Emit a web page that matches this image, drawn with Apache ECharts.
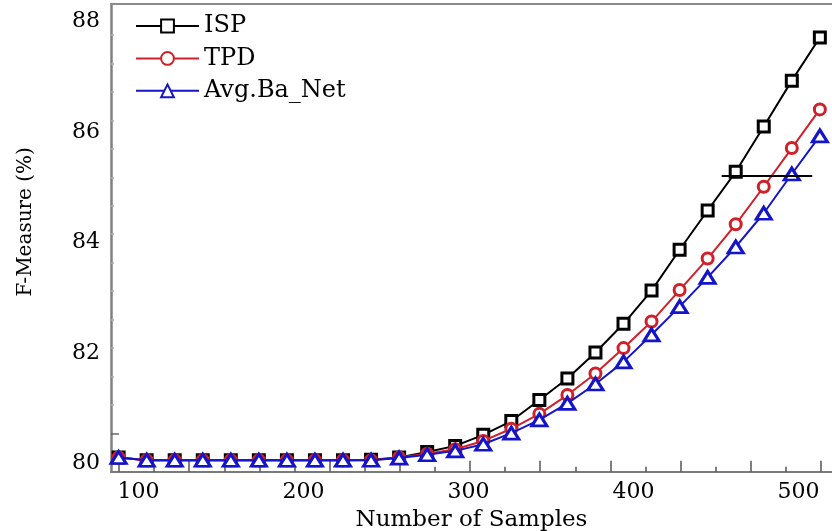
<!DOCTYPE html>
<html>
<head>
<meta charset="utf-8">
<script src="https://cdn.jsdelivr.net/npm/echarts@6/dist/echarts.min.js"></script>
<style>
html,body{margin:0;padding:0;background:#fff;}
#chart{width:832px;height:531px;}
</style>
</head>
<body>
<div id="chart"></div>
<script>
// ---- data ----
const sampleCounts = [88, 105, 122, 139, 156, 173, 190, 207, 224, 241, 258, 275, 292, 309, 326, 343, 360, 377, 394, 411, 428, 445, 462, 479, 496, 513];
const ispValues = [80.11, 80.06, 80.06, 80.06, 80.06, 80.06, 80.06, 80.06, 80.06, 80.07, 80.11, 80.21, 80.32, 80.52, 80.77, 81.15, 81.54, 82.01, 82.53, 83.13, 83.87, 84.58, 85.28, 86.10, 86.93, 87.71];
const tpdValues = [80.11, 80.06, 80.06, 80.06, 80.06, 80.06, 80.06, 80.06, 80.06, 80.06, 80.11, 80.18, 80.26, 80.41, 80.63, 80.90, 81.24, 81.63, 82.09, 82.57, 83.14, 83.71, 84.33, 85.01, 85.71, 86.41];
const avgBaNetValues = [80.11, 80.06, 80.06, 80.06, 80.06, 80.06, 80.06, 80.06, 80.06, 80.06, 80.10, 80.16, 80.23, 80.35, 80.55, 80.79, 81.09, 81.44, 81.84, 82.33, 82.84, 83.37, 83.92, 84.53, 85.24, 85.93];
const seriesNames = ['ISP', 'TPD', 'Avg.Ba_Net'];
const xTickLabels = [100, 200, 300, 400, 500];
const yTickLabels = [80, 82, 84, 86, 88];
const annotationSegment = [[453.5, 85.2], [508.4, 85.2]];
const xAxisTitle = 'Number of Samples';
const yAxisTitle = 'F-Measure (%)';

// decorative tick marks (tick index units)
const xMajorTicks = [0, 2, 4, 6, 8, 10, 12, 14, 16, 18, 20];
const xMinorTicks = [1, 3, 5, 7, 9, 11, 13, 15, 17, 19];
const yMinorTicks = [1, 2, 3, 4, 5, 6, 7, 8, 9, 10, 11, 12, 13, 14];
const yMajorTicks = [0];

const FONT = 'DejaVu Serif';
const X_MIN = 83.39, X_MAX = 520.36;
const Y_MIN = 79.853, Y_MAX = 88.317;

function pairs(xs, ys) { return xs.map((x, i) => [x, ys[i]]); }

function decoAxis(extra) {
  return Object.assign({
    type: 'value',
    axisLine: { show: false, onZero: false },
    axisLabel: { show: false },
    splitLine: { show: false },
    silent: true
  }, extra);
}

const chart = echarts.init(document.getElementById('chart'), null, { renderer: 'canvas' });

const option = {
  animation: false,
  backgroundColor: '#fff',
  grid: { left: 111, right: 0, top: 4, bottom: 59.3, containLabel: false, outerBoundsMode: 'none' },
  legend: {
    orient: 'vertical',
    left: 130,
    top: 5,
    itemWidth: 63,
    itemHeight: 16,
    itemGap: 0.4,
    textStyle: { fontFamily: FONT, fontSize: 24, color: '#000', lineHeight: 32 },
    data: seriesNames
  },
  xAxis: [
    {
      type: 'value', position: 'bottom', min: X_MIN, max: X_MAX,
      axisLine: { onZero: false, lineStyle: { color: '#7a7a7a', width: 2 } },
      axisTick: { show: false },
      splitLine: { show: false },
      axisLabel: { customValues: xTickLabels, color: '#000', fontFamily: FONT, fontSize: 22, margin: 10 },
      name: xAxisTitle, nameLocation: 'middle', nameGap: 34,
      nameTextStyle: { fontFamily: FONT, fontSize: 23, color: '#000' }
    },
    decoAxis({ position: 'bottom', min: -0.228, max: 20.313,
      axisTick: { show: true, inside: true, length: 11, customValues: xMajorTicks, lineStyle: { color: '#555', width: 1.5 } } }),
    decoAxis({ position: 'bottom', min: -0.228, max: 20.313,
      axisTick: { show: true, inside: true, length: 5, customValues: xMinorTicks, lineStyle: { color: '#555', width: 1.5 } } }),
    {
      type: 'value', position: 'top', min: 0, max: 1,
      axisLine: { onZero: false, lineStyle: { color: '#8a8a8a', width: 2 } },
      axisTick: { show: false }, axisLabel: { show: false }, splitLine: { show: false }, silent: true
    }
  ],
  yAxis: [
    {
      type: 'value', position: 'left', min: Y_MIN, max: Y_MAX,
      axisLine: { onZero: false, show: true, lineStyle: { color: '#808080', width: 2.5 } },
      axisTick: { show: false },
      splitLine: { show: false },
      axisLabel: { customValues: yTickLabels, color: '#000', fontFamily: FONT, fontSize: 22, margin: 11 },
      name: yAxisTitle, nameLocation: 'middle', nameGap: 75,
      nameTextStyle: { fontFamily: FONT, fontSize: 20, color: '#000', padding: [0, 0, 0, 32] }
    },
    decoAxis({ position: 'left', min: -1.35, max: 15.09,
      axisTick: { show: true, inside: true, length: 3, customValues: yMinorTicks, lineStyle: { color: '#aaa', width: 1.5 } } }),
    decoAxis({ position: 'left', min: -1.35, max: 15.09,
      axisTick: { show: true, inside: true, length: 8, customValues: yMajorTicks, lineStyle: { color: '#666', width: 1.5 } } })
  ],
  series: [
    {
      name: seriesNames[0], type: 'line', xAxisIndex: 0, yAxisIndex: 0,
      data: pairs(sampleCounts, ispValues),
      symbol: 'rect', symbolSize: 11,
      lineStyle: { color: '#000', width: 2 },
      itemStyle: { color: '#fff', borderColor: '#000', borderWidth: 3 },
      z: 2,
      markLine: {
        silent: true, symbol: ['none', 'none'], animation: false,
        label: { show: false },
        lineStyle: { color: '#000', type: 'solid', width: 2 },
        emphasis: { disabled: true },
        data: [[{ coord: annotationSegment[0] }, { coord: annotationSegment[1] }]]
      }
    },
    {
      name: seriesNames[1], type: 'line', xAxisIndex: 0, yAxisIndex: 0,
      data: pairs(sampleCounts, tpdValues),
      symbol: 'circle', symbolSize: 11,
      lineStyle: { color: '#d0202a', width: 2 },
      itemStyle: { color: '#fff', borderColor: '#d0202a', borderWidth: 3 },
      z: 3
    },
    {
      name: seriesNames[2], type: 'line', xAxisIndex: 0, yAxisIndex: 0,
      data: pairs(sampleCounts, avgBaNetValues),
      symbol: 'triangle', symbolSize: [15, 12],
      lineStyle: { color: '#1414c8', width: 2 },
      itemStyle: { color: '#fff', borderColor: '#1414c8', borderWidth: 3 },
      z: 4
    }
  ]
};
chart.setOption(option);
</script>
</body>
</html>
